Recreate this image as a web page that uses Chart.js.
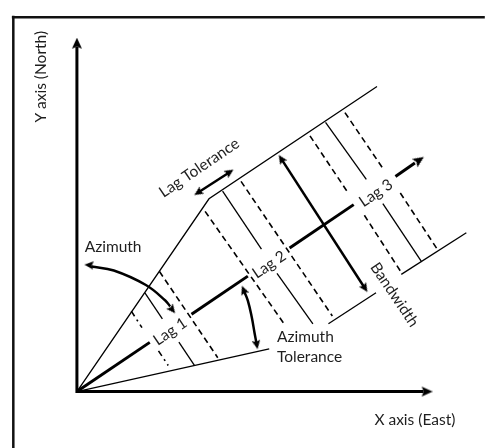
<!DOCTYPE html>
<html>
<head>
<meta charset="utf-8">
<style>
  html, body { margin: 0; padding: 0; background: #ffffff; }
  #c { display: block; }
</style>
</head>
<body>
<canvas id="c" width="485" height="448"></canvas>
<script src="https://cdn.jsdelivr.net/npm/chart.js@4/dist/chart.umd.min.js"></script>
<script>
// ---------- diagram data (X = East, Y = North, origin at the axes' corner) ----------
const frameLines = [
  [[-65.5, 388], [-65.5, -60]],
  [[-67, 386.5], [420, 386.5]]
];
const axisLine = [[0, 356], [0, 0], [357, 0]];
const centreLine = [
  [[0, 0], [75, 50.8]],
  [[118, 79.9], [176, 119.2]],
  [[219, 148.3], [285, 193]],
  [[328, 222], [348, 236]]
];
const toleranceBounds = [
  [[0, 0], [136, 199], [309, 315]],
  [[0, 0], [198, 44]],
  [[259, 70], [308, 102]],
  [[334, 121], [401, 164]]
];
const lagCentreLines = [
  [[70, 102], [88, 75]], [[105, 51], [121, 27]],
  [[150, 207], [190, 147]], [[206, 122], [243, 70]],
  [[256, 278], [298, 219]], [[315, 194], [355, 134]]
];
const lagToleranceLines = [
  [[85, 124], [145, 35]],
  [[132, 186], [214, 69]],
  [[169, 217], [263, 78]],
  [[240, 264], [280, 204]], [[296, 182], [334, 123]],
  [[276, 288], [316, 229]], [[333, 205], [371, 147]]
];
const firstLagStartLine = [
  [[56, 83], [67, 66]],
  [[84, 42], [94, 27]]
];
const doubleArrows = [
  [[211.3, 239], [295.7, 108]],   // bandwidth
  [[126, 206.3], [156, 225.7]]    // lag tolerance
];
const azimuthArc = [[15, 129.1], [38, 125], [71, 110], [91, 94], [96, 88]];
const azimuthToleranceArc = [[172.2, 103.4], [176, 94], [180, 77], [183, 60], [184.9, 49.9]];

const arrowTips = [
  [0, 365], [366, 0], [357, 242],
  [208, 244], [299, 103],
  [121, 203], [161, 229],
  [8, 131], [101, 81],
  [170, 109], [186, 44]
];
const arrowAngles = [0, 90, 56, -32.8, 147.2, -123, 57, -85, 141.5, -21.8, 169.4];
const arrowKinds = ['big', 'big', 'big', 'small', 'small', 'small', 'small', 'small', 'small', 'small', 'small'];

const labelTexts = ['Y axis (North)', 'X axis (East)', 'Azimuth', 'Azimuth', 'Tolerance',
                    'Lag Tolerance', 'Bandwidth', 'Lag 1', 'Lag 2', 'Lag 3'];
const labelAnchors = [[-37, 325], [348, -29], [8, 149], [206, 56], [206, 36],
                      [126, 231], [327, 100], [96, 62], [198, 131], [308, 205]];
const labelAngles = [-90, 0, 0, 0, 0, -34, 56, -34, -34, -34];
const labelAligns = ['center', 'center', 'left', 'left', 'left', 'center', 'center', 'center', 'center', 'center'];

// ---------- arrowhead images ----------
function makeArrowHead(len, halfW) {
  const s = len * 2;
  const cv = document.createElement('canvas');
  cv.width = s; cv.height = s;
  const g = cv.getContext('2d');
  g.fillStyle = '#000';
  g.beginPath();
  g.moveTo(s / 2, 0);
  g.lineTo(s / 2 + halfW, len);
  g.lineTo(s / 2, len * 0.82);
  g.lineTo(s / 2 - halfW, len);
  g.closePath();
  g.fill();
  return { img: cv, len: len };
}
const heads = { big: makeArrowHead(11, 5), small: makeArrowHead(9, 4.2) };

const arrowPoints = arrowTips.map((t, i) => {
  const a = arrowAngles[i] * Math.PI / 180;
  const L = heads[arrowKinds[i]].len;
  return { x: t[0] - L * Math.sin(a), y: t[1] - L * Math.cos(a) };
});

// ---------- datasets ----------
function toPts(seg) { return seg.map(p => ({ x: p[0], y: p[1] })); }
function lineSets(segs, style) {
  return segs.map(seg => Object.assign({
    data: toPts(seg), showLine: true, pointRadius: 0, borderColor: '#000',
    backgroundColor: '#000', fill: false, tension: 0, borderCapStyle: 'butt', clip: false
  }, style));
}

const datasets = [].concat(
  lineSets(frameLines, { borderWidth: 2.5, borderColor: '#111' }),
  lineSets([axisLine], { borderWidth: 3, borderJoinStyle: 'miter' }),
  lineSets(centreLine, { borderWidth: 3 }),
  lineSets(toleranceBounds, { borderWidth: 1.3, borderJoinStyle: 'miter' }),
  lineSets(lagCentreLines, { borderWidth: 1.3 }),
  lineSets(lagToleranceLines, { borderWidth: 1.6, borderDash: [6, 4] }),
  lineSets(firstLagStartLine, { borderWidth: 1.6, borderDash: [6, 4, 2, 4] }),
  lineSets(doubleArrows, { borderWidth: 2.5 }),
  lineSets([azimuthArc, azimuthToleranceArc], { borderWidth: 2.5, tension: 0.4 }),
  [{
    data: arrowPoints, showLine: false,
    pointStyle: arrowKinds.map(k => heads[k].img),
    rotation: arrowAngles,
    pointRadius: 6, clip: false
  }]
);

// ---------- text plugin ----------
const labelPlugin = {
  id: 'diagramLabels',
  afterDatasetsDraw(chart) {
    const ctx = chart.ctx;
    const xs = chart.scales.x, ys = chart.scales.y;
    ctx.save();
    ctx.fillStyle = '#1e1e1e';
    ctx.font = '15.5px Lato, "Open Sans", sans-serif';
    ctx.textBaseline = 'middle';
    labelTexts.forEach((txt, i) => {
      const px = xs.getPixelForValue(labelAnchors[i][0]);
      const py = ys.getPixelForValue(labelAnchors[i][1]);
      ctx.save();
      ctx.translate(px, py);
      ctx.rotate(labelAngles[i] * Math.PI / 180);
      ctx.textAlign = labelAligns[i];
      ctx.fillText(txt, 0, 0);
      ctx.restore();
    });
    ctx.restore();
  }
};

new Chart(document.getElementById('c'), {
  type: 'scatter',
  data: { datasets: datasets },
  options: {
    responsive: false,
    animation: false,
    events: [],
    layout: { padding: 0 },
    plugins: { legend: { display: false }, tooltip: { enabled: false } },
    scales: {
      x: { type: 'linear', min: -72, max: 413, display: false },
      y: { type: 'linear', min: -51, max: 397, display: false }
    }
  },
  plugins: [labelPlugin]
});
</script>
</body>
</html>
